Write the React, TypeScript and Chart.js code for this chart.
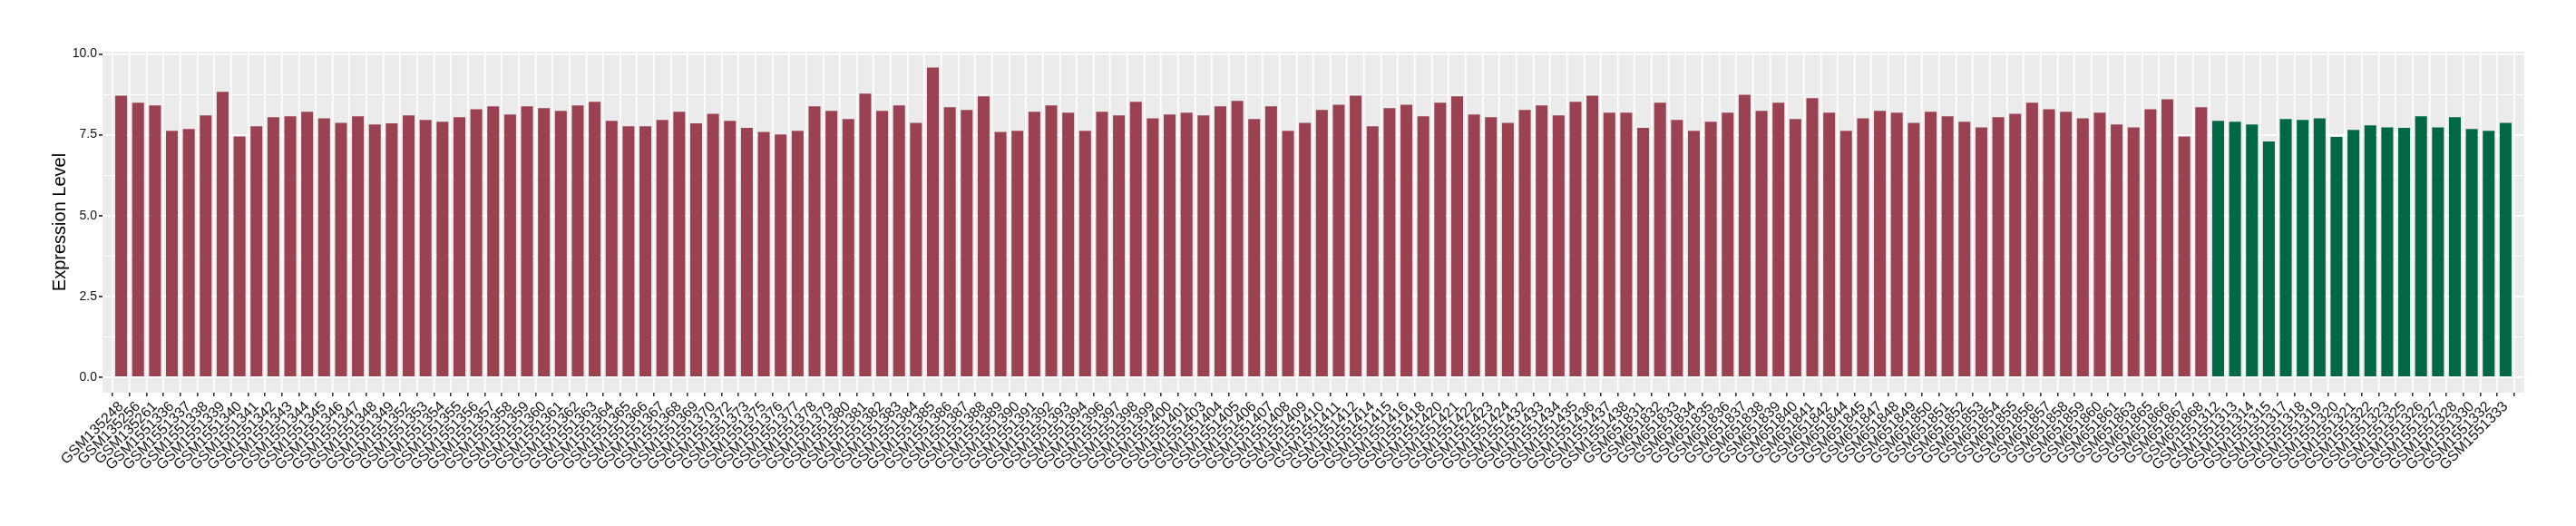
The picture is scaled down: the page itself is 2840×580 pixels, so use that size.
import React, { useEffect, useRef } from "react";
import Chart from "chart.js/auto";

const redLabels = [
  "GSM135248", "GSM135256", "GSM135261",
  "GSM1551336", "GSM1551337", "GSM1551338", "GSM1551339", "GSM1551340", "GSM1551341", "GSM1551342",
  "GSM1551343", "GSM1551344", "GSM1551345", "GSM1551346", "GSM1551347", "GSM1551348", "GSM1551349",
  "GSM1551352", "GSM1551353", "GSM1551354", "GSM1551355", "GSM1551356", "GSM1551357", "GSM1551358",
  "GSM1551359", "GSM1551360", "GSM1551361", "GSM1551362", "GSM1551363", "GSM1551364", "GSM1551365",
  "GSM1551366", "GSM1551367", "GSM1551368", "GSM1551369", "GSM1551370",
  "GSM1551372", "GSM1551373",
  "GSM1551375", "GSM1551376", "GSM1551377", "GSM1551378", "GSM1551379", "GSM1551380", "GSM1551381",
  "GSM1551382", "GSM1551383", "GSM1551384", "GSM1551385", "GSM1551386", "GSM1551387", "GSM1551388",
  "GSM1551389", "GSM1551390", "GSM1551391", "GSM1551392", "GSM1551393", "GSM1551394",
  "GSM1551396", "GSM1551397", "GSM1551398", "GSM1551399", "GSM1551400", "GSM1551401",
  "GSM1551403", "GSM1551404", "GSM1551405", "GSM1551406", "GSM1551407", "GSM1551408", "GSM1551409",
  "GSM1551410", "GSM1551411", "GSM1551412",
  "GSM1551414", "GSM1551415", "GSM1551416", "GSM1551418",
  "GSM1551420", "GSM1551421", "GSM1551422", "GSM1551423", "GSM1551424",
  "GSM1551432", "GSM1551433", "GSM1551434", "GSM1551435", "GSM1551436", "GSM1551437", "GSM1551438",
  "GSM651831", "GSM651832", "GSM651833", "GSM651834", "GSM651835", "GSM651836", "GSM651837",
  "GSM651838", "GSM651839", "GSM651840", "GSM651841", "GSM651842",
  "GSM651844", "GSM651845",
  "GSM651847", "GSM651848", "GSM651849", "GSM651850", "GSM651851", "GSM651852", "GSM651853",
  "GSM651854", "GSM651855", "GSM651856", "GSM651857", "GSM651858", "GSM651859", "GSM651860",
  "GSM651861", "GSM651863",
  "GSM651865", "GSM651866", "GSM651867", "GSM651868",
];

const redValues = [
  8.71, 8.49, 8.41, 7.62, 7.68, 8.10, 8.83, 7.45, 7.76, 8.04,
  8.07, 8.21, 8.01, 7.87, 8.07, 7.82, 7.85, 8.10, 7.96, 7.90,
  8.04, 8.29, 8.38, 8.13, 8.38, 8.32, 8.24, 8.41, 8.52,
  7.93, 7.76, 7.76, 7.96, 8.21, 7.85, 8.15, 7.93, 7.71, 7.59,
  7.51, 7.62, 8.38, 8.24, 7.99, 8.77, 8.24, 8.41, 7.87, 9.58,
  8.35, 8.27, 8.69, 7.59, 7.62, 8.21, 8.41, 8.18,
  7.62, 8.21, 8.10, 8.52, 8.01, 8.13, 8.18, 8.10, 8.38, 8.55,
  7.99, 8.38, 7.62, 7.87, 8.27, 8.43, 8.71, 7.76, 8.32, 8.43,
  8.07, 8.49, 8.69, 8.13, 8.04, 7.87, 8.27, 8.41, 8.10,
  8.52, 8.71, 8.18, 8.18, 7.71, 8.49, 7.96, 7.62, 7.90, 8.18,
  8.74, 8.24, 8.49, 7.99, 8.63, 8.18, 7.62, 8.01, 8.24, 8.18,
  7.87, 8.21, 8.07, 7.90, 7.73, 8.04, 8.15, 8.49,
  8.29, 8.21, 8.01, 8.18, 7.82, 7.73, 8.29, 8.60, 7.45, 8.35,
];

const greenLabels = [
  "GSM1551312", "GSM1551313", "GSM1551314", "GSM1551315", "GSM1551317", "GSM1551318",
  "GSM1551319", "GSM1551320", "GSM1551321", "GSM1551322", "GSM1551323", "GSM1551325",
  "GSM1551326", "GSM1551327", "GSM1551328", "GSM1551330", "GSM1551332", "GSM1551333",
];

const greenValues = [
  7.93, 7.90, 7.82, 7.29, 7.99, 7.96, 8.01, 7.43, 7.65,
  7.79, 7.73, 7.71, 8.07, 7.73, 8.04, 7.68, 7.62, 7.87,
];

const yTickValues = [0, 1.25, 2.5, 3.75, 5, 6.25, 7.5, 8.75, 10];
const yMajorValues = [0, 2.5, 5, 7.5, 10];

const RED = "#9A4252";
const GREEN = "#006845";
const PANEL = "#EBEBEB";
const FONT = "'Liberation Sans', Arial, Helvetica, sans-serif";

export default function App() {
  const ref = useRef<HTMLCanvasElement>(null);

  useEffect(() => {
    if (!ref.current) return;
    const labels = [...redLabels, ...greenLabels];
    const values = [...redValues, ...greenValues];
    const colors = labels.map((_, i) => (i < redLabels.length ? RED : GREEN));
    const isMajor = (v: number) => yMajorValues.some((m) => Math.abs(m - v) < 1e-6);

    const panelBg = {
      id: "panelBg",
      beforeDraw(chart: any) {
        const { ctx, chartArea: a } = chart;
        ctx.save();
        ctx.fillStyle = PANEL;
        ctx.fillRect(a.left, a.top, a.right - a.left, a.bottom - a.top);
        ctx.restore();
      },
    };

    const chart = new Chart(ref.current, {
      type: "bar",
      data: {
        datasets: [
          {
            data: values.map((v, i) => ({ x: i, y: v })),
            backgroundColor: colors,
            borderWidth: 0,
            barPercentage: 0.7,
            categoryPercentage: 1,
          },
        ],
      },
      options: {
        animation: false,
        responsive: false,
        devicePixelRatio: 1,
        layout: { padding: { left: 0, top: 57, right: 57, bottom: 0 } },
        plugins: { legend: { display: false }, tooltip: { enabled: false } },
        scales: {
          x: {
            type: "linear",
            min: -0.6,
            max: labels.length - 0.4,
            afterBuildTicks: (s: any) => {
              s.ticks = labels.map((_, i) => ({ value: i }));
            },
            afterFit: (s: any) => {
              s.height = 147;
            },
            grid: {
              color: "#FFFFFF",
              lineWidth: 1.6,
              tickColor: "#333333",
              tickLength: 4,
            },
            border: { display: false },
            ticks: {
              autoSkip: false,
              maxRotation: 45,
              minRotation: 45,
              padding: 2,
              color: "#111111",
              font: { family: FONT, size: 16 },
              callback: (v: any) => labels[Math.round(Number(v))] ?? "",
            },
          },
          y: {
            type: "linear",
            min: -0.48,
            max: 10.07,
            afterBuildTicks: (s: any) => {
              s.ticks = yTickValues.map((v) => ({ value: v }));
            },
            afterFit: (s: any) => {
              s.width = 113;
            },
            grid: {
              color: "#FFFFFF",
              lineWidth: (ctx: any) => (ctx.tick && isMajor(ctx.tick.value) ? 1.8 : 0.9),
              tickColor: (ctx: any) => (ctx.tick && isMajor(ctx.tick.value) ? "#333333" : "rgba(0,0,0,0)"),
              tickLength: 4,
            },
            border: { display: false },
            ticks: {
              padding: 2,
              color: "#111111",
              font: { family: FONT, size: 14 },
              callback: (v: any) => (isMajor(Number(v)) ? Number(v).toFixed(1) : ""),
            },
            title: {
              display: true,
              text: "Expression Level",
              color: "#000000",
              font: { family: FONT, size: 20 },
              padding: { top: 54, bottom: 0 },
            },
          },
        },
      },
      plugins: [panelBg],
    } as any);

    return () => chart.destroy();
  }, []);

  return (
    <div style={{ position: "absolute", left: 0, top: 0, width: 2840, height: 580, background: "#FFFFFF" }}>
      <canvas ref={ref} width={2840} height={580} style={{ display: "block", width: 2840, height: 580 }} />
    </div>
  );
}
